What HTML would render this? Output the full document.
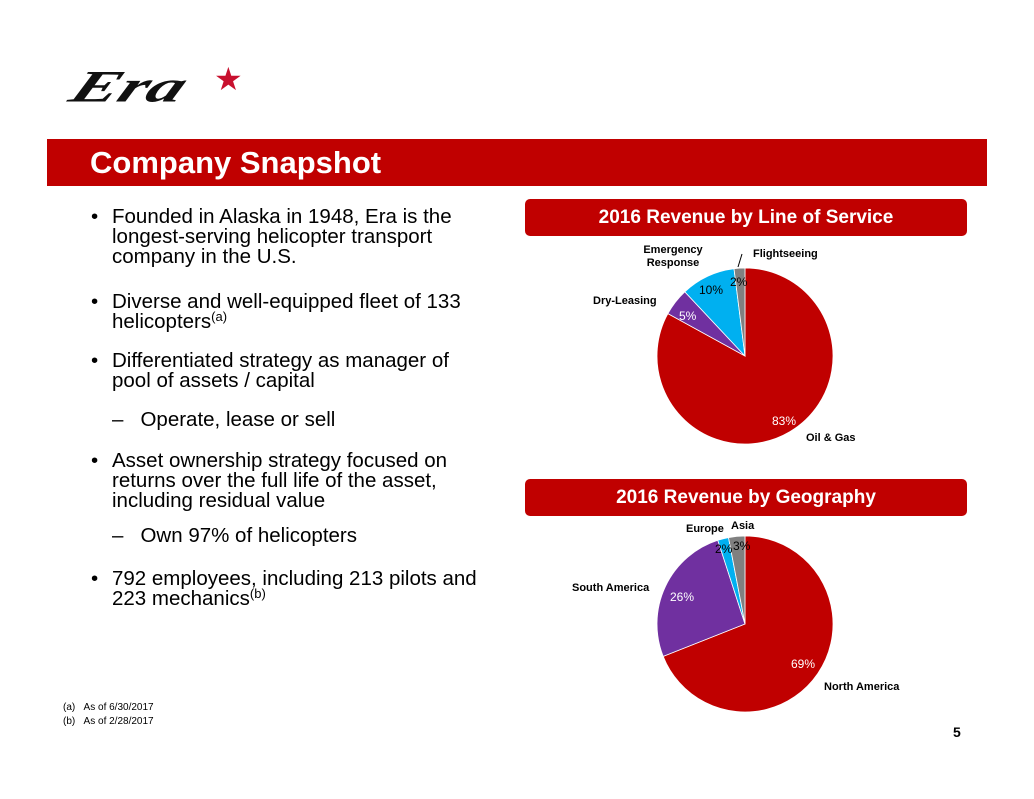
<!DOCTYPE html>
<html><head><style>
body{margin:0;width:1034px;height:799px;background:#fff;position:relative;font-family:"Liberation Sans",sans-serif;overflow:hidden}
.a{position:absolute}
.bar{left:47px;top:139px;width:940px;height:47px;background:#c00000}
.bar span{position:absolute;left:43px;top:6px;color:#fff;font-weight:bold;font-size:31px}
.box{left:525px;width:442px;height:37px;background:#c00000;border-radius:5px;color:#fff;font-weight:bold;font-size:19px;text-align:center;line-height:37px}
.t{font-size:20.5px;line-height:20px;color:#000;white-space:nowrap}
.b{left:91px}
.x{left:112px}
sup{font-size:13px;position:relative;top:-7px;vertical-align:baseline;line-height:0}
.f{font-size:10px;color:#000}
</style></head><body>
<div class="a" style="left:84px;top:64px;font-family:'Liberation Serif',serif;font-style:italic;font-weight:bold;font-size:60px;line-height:60px;transform:skewX(-25deg) scale(1.2,0.75);transform-origin:left top;color:#111">Era</div>
<div class="a" style="left:214px;top:63px;color:#c8102e;font-size:32px;line-height:32px">★</div>
<div class="a bar"><span>Company Snapshot</span></div>
<div class="a box" style="top:199px">2016 Revenue by Line of Service</div>
<div class="a box" style="top:479px">2016 Revenue by Geography</div>

<div class="a t b" style="top:207px">•</div><div class="a t x" style="top:207px">Founded in Alaska in 1948, Era is the<br>longest-serving helicopter transport<br>company in the U.S.</div>
<div class="a t b" style="top:292px">•</div><div class="a t x" style="top:292px">Diverse and well-equipped fleet of 133<br>helicopters<sup>(a)</sup></div>
<div class="a t b" style="top:351px">•</div><div class="a t x" style="top:351px">Differentiated strategy as manager of<br>pool of assets / capital</div>
<div class="a t" style="left:112px;top:410px">–&nbsp;&nbsp;&nbsp;Operate, lease or sell</div>
<div class="a t b" style="top:451px">•</div><div class="a t x" style="top:451px">Asset ownership strategy focused on<br>returns over the full life of the asset,<br>including residual value</div>
<div class="a t" style="left:112px;top:526px">–&nbsp;&nbsp;&nbsp;Own 97% of helicopters</div>
<div class="a t b" style="top:569px">•</div><div class="a t x" style="top:569px">792 employees, including 213 pilots and<br>223 mechanics<sup>(b)</sup></div>
<div class="a f" style="left:63px;top:702px">(a)&nbsp;&nbsp;&nbsp;As of 6/30/2017</div>
<div class="a f" style="left:63px;top:716px">(b)&nbsp;&nbsp;&nbsp;As of 2/28/2017</div>
<div class="a" style="left:953px;top:724px;font-weight:bold;font-size:14px">5</div>

<svg class="a" style="left:0;top:0" width="1034" height="799" font-family="Liberation Sans, sans-serif">
<g stroke="#fff" stroke-width="0.8">
<path d="M745,356 L745,268 A88,88 0 1,1 667.9,313.6 Z" fill="#c00000"/>
<path d="M745,356 L667.9,313.6 A88,88 0 0,1 684.8,291.8 Z" fill="#7030a0"/>
<path d="M745,356 L684.8,291.8 A88,88 0 0,1 734,268.7 Z" fill="#00b0f0"/>
<path d="M745,356 L734,268.7 A88,88 0 0,1 745,268 Z" fill="#808080"/>
<path d="M745,624 L745,536 A88,88 0 1,1 663.2,656.4 Z" fill="#c00000"/>
<path d="M745,624 L663.2,656.4 A88,88 0 0,1 717.8,540.3 Z" fill="#7030a0"/>
<path d="M745,624 L717.8,540.3 A88,88 0 0,1 728.5,537.6 Z" fill="#00b0f0"/>
<path d="M745,624 L728.5,537.6 A88,88 0 0,1 745,536 Z" fill="#808080"/>
</g>
<line x1="738" y1="267" x2="742" y2="254" stroke="#000"/>
<g font-size="11" font-weight="bold" fill="#000">
<text x="673" y="253" text-anchor="middle">Emergency</text>
<text x="673" y="266" text-anchor="middle">Response</text>
<text x="753" y="257">Flightseeing</text>
<text x="593" y="304">Dry-Leasing</text>
<text x="806" y="441">Oil &amp; Gas</text>
<text x="686" y="532">Europe</text>
<text x="731" y="529">Asia</text>
<text x="572" y="591">South America</text>
<text x="824" y="690">North America</text>
</g>
<g font-size="12" fill="#fff">
<text x="679" y="320">5%</text>
<text x="772" y="425">83%</text>
<text x="670" y="601">26%</text>
<text x="791" y="668">69%</text>
</g>
<g font-size="12" fill="#000">
<text x="699" y="294">10%</text>
<text x="730" y="286">2%</text>
<text x="715" y="553">2%</text>
<text x="733" y="550">3%</text>
</g>
</svg>
</body></html>
